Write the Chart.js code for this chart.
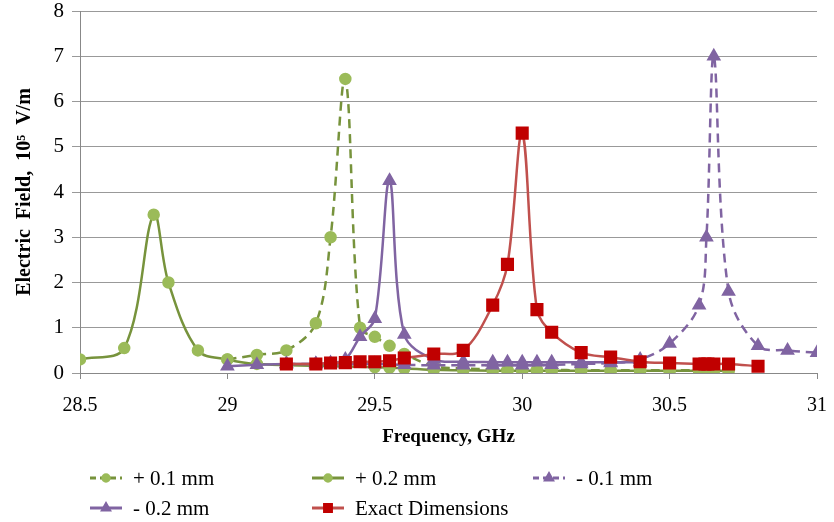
<!DOCTYPE html>
<html>
<head>
<meta charset="utf-8">
<script src="https://cdn.jsdelivr.net/npm/chart.js@4.4.1/dist/chart.umd.min.js"></script>
<style>
  html, body { margin: 0; padding: 0; background: #fff; }
  #wrap { width: 834px; height: 522px; }
</style>
</head>
<body>
<div id="wrap"><canvas id="fieldChart" width="834" height="522"></canvas></div>
<script>
// Frequency (GHz) / field (10^5 V/m)
const plus01Freq = [29.0, 29.1, 29.2, 29.3, 29.35, 29.4, 29.45, 29.5, 29.55, 29.6, 29.7, 29.8, 29.9, 29.95, 30.0, 30.05, 30.1, 30.2, 30.3, 30.4, 30.5, 30.6, 30.63, 30.65, 30.7];
const plus01Field = [0.3, 0.4, 0.5, 1.1, 3.0, 6.5, 1.0, 0.8, 0.6, 0.42, 0.15, 0.1, 0.08, 0.07, 0.07, 0.07, 0.07, 0.06, 0.06, 0.06, 0.06, 0.06, 0.06, 0.06, 0.06];

const plus02Freq = [28.5, 28.65, 28.75, 28.8, 28.9, 29.0, 29.1, 29.5, 29.55, 29.6, 29.7, 29.8, 29.9, 29.95, 30.0, 30.05, 30.1, 30.2, 30.3, 30.4, 30.5, 30.6, 30.63, 30.65, 30.7];
const plus02Field = [0.3, 0.55, 3.5, 2.0, 0.5, 0.3, 0.2, 0.13, 0.12, 0.1, 0.07, 0.06, 0.05, 0.05, 0.05, 0.05, 0.05, 0.05, 0.05, 0.05, 0.05, 0.05, 0.05, 0.05, 0.05];

const minus01Freq = [29.2, 29.3, 29.4, 29.5, 29.6, 29.7, 29.8, 29.9, 30.0, 30.1, 30.2, 30.3, 30.4, 30.5, 30.6, 30.625, 30.65, 30.7, 30.8, 30.9, 31.0];
const minus01Field = [0.2, 0.2, 0.2, 0.2, 0.18, 0.17, 0.17, 0.17, 0.17, 0.18, 0.2, 0.22, 0.3, 0.65, 1.5, 3.0, 7.0, 1.8, 0.6, 0.5, 0.45];

const minus02Freq = [29.0, 29.1, 29.2, 29.3, 29.35, 29.4, 29.45, 29.5, 29.55, 29.6, 29.7, 29.8, 29.9, 29.95, 30.0, 30.05, 30.1, 30.2, 30.3, 30.4];
const minus02Field = [0.15, 0.18, 0.2, 0.2, 0.22, 0.3, 0.8, 1.2, 4.25, 0.85, 0.3, 0.25, 0.24, 0.24, 0.24, 0.24, 0.24, 0.24, 0.24, 0.24];

const exactFreq = [29.2, 29.3, 29.35, 29.4, 29.45, 29.5, 29.55, 29.6, 29.7, 29.8, 29.9, 29.95, 30.0, 30.05, 30.1, 30.2, 30.3, 30.4, 30.5, 30.6, 30.62, 30.63, 30.65, 30.7, 30.8];
const exactField = [0.2, 0.2, 0.22, 0.23, 0.25, 0.25, 0.27, 0.33, 0.42, 0.5, 1.5, 2.4, 5.3, 1.4, 0.9, 0.45, 0.35, 0.25, 0.22, 0.2, 0.2, 0.2, 0.2, 0.2, 0.15];

const seriesNames = ['+ 0.1 mm', '+ 0.2 mm', '- 0.1 mm', '- 0.2 mm', 'Exact Dimensions'];

const xTicks = [28.5, 29, 29.5, 30, 30.5, 31];
const yTicks = [0, 1, 2, 3, 4, 5, 6, 7, 8];

const SERIF = '"Liberation Serif", "Times New Roman", serif';

function pairs(xs, ys) {
    return xs.map((x, i) => ({ x: x, y: ys[i] }));
}

// Legend laid out like the Excel one: 3 columns, 2 rows under the x title
const gridLegend = {
    id: 'gridLegend',
    afterDraw(chart) {
        const ctx = chart.ctx;
        const cols = [90, 312, 533];
        const rows = [478, 508];
        chart.data.datasets.forEach((ds, i) => {
            const x = cols[i % 3];
            const y = rows[Math.floor(i / 3)];
            ctx.save();
            ctx.strokeStyle = ds.borderColor;
            ctx.lineWidth = 3;
            ctx.setLineDash(ds.borderDash ? [6, 4] : []);
            ctx.beginPath();
            ctx.moveTo(x, y);
            ctx.lineTo(x + 32, y);
            ctx.stroke();
            ctx.setLineDash([]);
            ctx.fillStyle = ds.pointBackgroundColor;
            ctx.strokeStyle = ds.pointBorderColor;
            Chart.helpers.drawPoint(ctx, {
                pointStyle: ds.pointStyle,
                radius: ds.pointRadius * 0.65,
                borderWidth: 1
            }, x + 16, y);
            ctx.fillStyle = '#000';
            ctx.font = '21px ' + SERIF;
            ctx.textBaseline = 'middle';
            ctx.fillText(ds.label, x + 43, y + 1);
            ctx.restore();
        });
    }
};

function makeSet(idx, xs, ys, line, marker, style, radius, dashed, order) {
    return {
        label: seriesNames[idx],
        data: pairs(xs, ys),
        borderColor: line,
        backgroundColor: marker,
        pointBackgroundColor: marker,
        pointBorderColor: marker,
        pointStyle: style,
        pointRadius: radius,
        borderWidth: 2.5,
        borderDash: dashed ? [9, 6] : undefined,
        tension: 0.35,
        order: order
    };
}

const ctx = document.getElementById('fieldChart').getContext('2d');
const chart = new Chart(ctx, {
    type: 'line',
    data: {
        datasets: [
            makeSet(0, plus01Freq, plus01Field, '#77933C', '#9BBB59', 'circle', 5, true, 3),
            makeSet(1, plus02Freq, plus02Field, '#77933C', '#9BBB59', 'circle', 5, false, 4),
            makeSet(2, minus01Freq, minus01Field, '#8064A2', '#8064A2', 'triangle', 6, true, 2),
            makeSet(3, minus02Freq, minus02Field, '#8064A2', '#8064A2', 'triangle', 6, false, 1),
            makeSet(4, exactFreq, exactField, '#C0504D', '#C00000', 'rect', 7.5, false, 0)
        ]
    },
    options: {
        responsive: false,
        animation: false,
        layout: { padding: { left: 0, right: 17, top: 11, bottom: 74 } },
        plugins: { legend: { display: false }, tooltip: { enabled: false } },
        scales: {
            x: {
                type: 'linear',
                min: 28.5,
                max: 31,
                afterBuildTicks: (s) => { s.ticks = xTicks.map(v => ({ value: v })); },
                // fixed box so the plot area lands where the original's does
                afterFit: (s) => { s.height = 75; s.paddingLeft = 0; s.paddingRight = 0; },
                ticks: {
                    color: '#000',
                    font: { family: SERIF, size: 20 },
                    padding: 15,
                    maxRotation: 0,
                    callback: (v) => String(v)
                },
                grid: { drawOnChartArea: false, drawTicks: true, tickLength: 6, color: '#888' },
                border: { display: true, color: '#888', width: 1 },
                title: {
                    display: true,
                    text: 'Frequency, GHz',
                    color: '#000',
                    font: { family: SERIF, size: 19, weight: 'bold' },
                    padding: { top: 4, bottom: 0 }
                }
            },
            y: {
                min: 0,
                max: 8,
                afterBuildTicks: (s) => { s.ticks = yTicks.map(v => ({ value: v })); },
                afterFit: (s) => { s.width = 80; s.paddingTop = 0; s.paddingBottom = 0; },
                ticks: {
                    color: '#000',
                    font: { family: SERIF, size: 21 },
                    padding: 8
                },
                grid: { color: '#999', lineWidth: 1, tickLength: 8 },
                border: { display: true, color: '#888', width: 1 },
                title: {
                    display: true,
                    text: 'Electric  Field,  10\u2075  V/m',
                    color: '#000',
                    font: { family: SERIF, size: 20, weight: 'bold' },
                    padding: { top: 13, bottom: 0 }
                }
            }
        }
    },
    plugins: [gridLegend]
});
</script>
</body>
</html>
